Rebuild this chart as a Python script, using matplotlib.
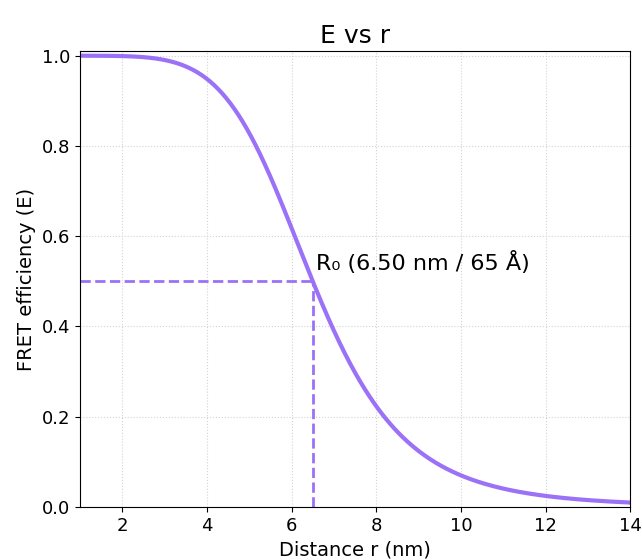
import numpy as np
import matplotlib.pyplot as plt

# Förster radius (nm) and plotted distance range
R0 = 6.5
r_min, r_max = 1.0, 14.0
x_ticks = [2, 4, 6, 8, 10, 12, 14]
y_ticks = [0.0, 0.2, 0.4, 0.6, 0.8, 1.0]

color = '#9b72f7'

r = np.linspace(r_min, r_max, 400)
E = 1.0 / (1.0 + (r / R0) ** 6)

fig = plt.figure(figsize=(6.42, 5.6), dpi=100)
ax = fig.add_axes([0.1246, 0.0946, 0.857, 0.814])

ax.plot(r, E, color=color, linewidth=3)
ax.plot([r_min, R0], [0.5, 0.5], color=color, linewidth=2, ls='--')
ax.plot([R0, R0], [0, 0.5], color=color, linewidth=2, ls='--')
ax.text(R0 + 0.08, 0.525, 'R₀ (6.50 nm / 65 Å)', fontsize=16)

ax.set_xlim(r_min, r_max)
ax.set_ylim(0, 1.01)
ax.set_xticks(x_ticks)
ax.set_yticks(y_ticks)
ax.tick_params(labelsize=13)
ax.grid(color='lightgray', linestyle=':', linewidth=0.8)
ax.set_title('E vs r', fontsize=18)
ax.set_xlabel('Distance r (nm)', fontsize=14)
ax.set_ylabel('FRET efficiency (E)', fontsize=14)

fig.savefig('out.png', dpi=100)
